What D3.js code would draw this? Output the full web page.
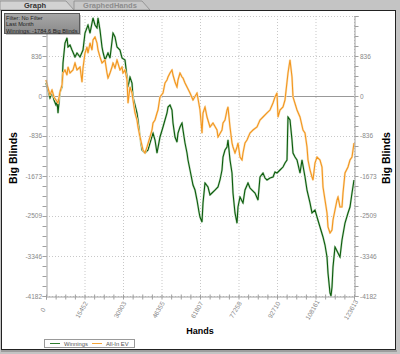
<!DOCTYPE html>
<html>
<head>
<meta charset="utf-8">
<script src="https://cdn.jsdelivr.net/npm/d3@7"></script>
<style>
    body { margin: 0; background: #c4c4c4; }
    svg { display: block; font-family: "Liberation Sans", Arial, sans-serif; }
</style>
</head>
<body>
<div id="chart"></div>
<script>
// winnings curve, [hands, big blinds]
const winnings = [
    [0,272],[803,125],[1605,-42],[2408,84],[3211,-84],[4013,-188],[4415,-84],[4816,-355],[5619,84],[6421,188],
    [6823,690],[7625,1108],[8428,1213],[8829,1025],[9632,1066],[10435,962],[11639,816],[12442,899],[13646,816],[14850,962],
    [15652,1317],[16856,1485],[17659,1317],[18863,1631],[19666,1485],[20468,1422],[20870,1631],[21672,1380],[22475,1025],[22876,920],
    [23679,753],[24883,899],[25686,795],[26890,1317],[27692,1234],[28495,1025],[29699,962],[30502,795],[31706,753],[32509,397],
    [32910,188],[33713,397],[34515,272],[34917,-21],[35719,-188],[36522,-355],[36923,-502],[37726,-857],[38529,-1129],[39733,-1192],
    [40937,-1129],[41739,-983],[42943,-774],[43746,-920],[44549,-1192],[45753,-857],[46957,-648],[48562,-355],[48963,-230],[49766,-188],
    [50569,-293],[50970,-565],[51773,-857],[52576,-962],[52977,-774],[53780,-648],[54582,-565],[54984,-711],[55786,-983],[56589,-1192],
    [56990,-1338],[57793,-1547],[58997,-1861],[59800,-1966],[60602,-2175],[61405,-2426],[61806,-2530],[62609,-2635],[63010,-2237],[63813,-1819],
    [65017,-1903],[65820,-2070],[66622,-2028],[67826,-1966],[69030,-1903],[69833,-1756],[70636,-1547],[71037,-1276],[71840,-1129],[72643,-1066],
    [73044,-920],[73847,-1338],[74649,-1610],[75051,-2028],[75853,-2446],[76656,-2656],[77057,-2321],[77860,-2112],[79064,-2237],[79867,-1966],
    [81071,-1819],[81873,-1924],[82676,-1966],[83880,-2028],[85084,-2175],[85887,-1694],[87091,-1610],[87893,-1715],[88696,-1756],[89900,-1715],
    [91104,-1694],[91907,-1589],[92710,-1610],[93914,-1547],[95118,-1485],[95920,-1401],[96723,-1338],[97124,-439],[97927,-502],[98730,-920],
    [99131,-1192],[99934,-1276],[100736,-1338],[101940,-1610],[102743,-1338],[103947,-1694],[104750,-1966],[105954,-2237],[106756,-2446],[107960,-2384],
    [108763,-2530],[109967,-2739],[111171,-2948],[111974,-3116],[112777,-3367],[113178,-3701],[113981,-4119],[114382,-4182],[114783,-3994],[115185,-3576],
    [115987,-3157],[117191,-3283],[117994,-3367],[118797,-3011],[120001,-2656],[121205,-2446],[122007,-2321],[122810,-2028],[123613,-1756]
]

// all-in EV curve, [hands, big blinds]
const allInEV = [
    [0,335],[803,167],[1605,21],[2408,125],[3211,-21],[4013,-84],[4816,-146],[5619,84],[6421,230],[6823,481],
    [7625,544],[8428,439],[8829,606],[9632,481],[10836,544],[11639,690],[12442,544],[13646,606],[14448,293],[14850,585],
    [15652,899],[16455,1025],[16856,899],[17659,1108],[18462,962],[18863,1171],[19666,1234],[20468,1108],[20870,962],[21672,816],
    [22475,690],[23679,753],[24482,481],[24883,376],[25686,481],[26488,606],[26890,690],[27692,585],[28495,753],[29699,544],
    [30502,606],[30903,481],[31706,544],[32509,335],[32910,-146],[33713,188],[34515,63],[34917,-84],[35719,-355],[36522,-502],
    [36923,-648],[37726,-857],[38930,-1129],[39733,-1192],[40535,-1066],[41739,-857],[42542,-711],[42943,-565],[43746,-502],[44549,-355],
    [44950,-293],[45753,-21],[46957,63],[47759,272],[48562,335],[48963,397],[49766,481],[50569,544],[50970,439],[51773,293],
    [52576,188],[52977,335],[53780,481],[54582,397],[54984,376],[55786,272],[56589,188],[57793,63],[58997,-84],[60602,63],
    [61806,-293],[62609,-774],[63010,-355],[63813,-230],[64616,-439],[65820,-648],[67024,-565],[68629,-711],[69030,-857],[70636,-711],
    [71037,-565],[71840,-502],[72643,-293],[73044,-230],[73847,-648],[74649,-983],[75051,-1066],[75853,-1192],[76656,-1066],[77057,-983],
    [77860,-1276],[78663,-1338],[79064,-1192],[79867,-983],[80669,-920],[81873,-774],[83077,-711],[84683,-648],[85887,-502],[87091,-439],
    [88696,-355],[89900,-293],[91104,-146],[91907,-21],[92710,63],[93111,-439],[93914,-293],[95118,-230],[95920,-84],[97124,481],
    [97927,753],[98730,397],[99131,-21],[100736,-293],[101940,-439],[103144,-711],[103947,-774],[104750,-1066],[105151,-1338],[105954,-1547],
    [106756,-1694],[107157,-1756],[107960,-1401],[108763,-1276],[109967,-1338],[110770,-1485],[111171,-1903],[111974,-2175],[112777,-2446],[113178,-2739],
    [113981,-2865],[114783,-2802],[115185,-2593],[115987,-2384],[116790,-2175],[117191,-2112],[117994,-2321],[118797,-2321],[119198,-2028],[120001,-1610],
    [121205,-1485],[122007,-1338],[122810,-1276],[123613,-983]
]

const xTicks = [0, 15452, 30903, 46355, 61807, 77258, 92710, 108161, 123613]
const yTicks = [836, 0, -836, -1673, -2509, -3346, -4182]
const yTop = 1673
const infoLines = ["Filter: No Filter", "Last Month", "Winnings: -1784.6 Big Blinds"]
const seriesNames = ["Winnings", "All-In EV"]

const W = 400, H = 354
const plot = { left: 46, right: 354, top: 16, bottom: 296 }

const svg = d3.select('#chart').append('svg')
    .attr('width', W)
    .attr('height', H)

// background + tab strip
svg.append('rect').attr('width', W).attr('height', H).attr('fill', '#c4c4c4')

const tab = (x0, w, label, active) => {
    svg.append('path')
        .attr('d', `M${x0},10 L${x0},1 L${x0 + w - 8},1 L${x0 + w},10 Z`)
        .attr('fill', active ? '#d2d2d2' : '#c8c8c8')
        .attr('stroke', '#8a8a8a')
        .attr('stroke-width', 0.8)
    svg.append('text')
        .attr('x', x0 + w / 2 - 2)
        .attr('y', 8)
        .attr('text-anchor', 'middle')
        .attr('font-size', 7.5)
        .attr('font-weight', 'bold')
        .attr('fill', active ? '#333' : '#8c8c8c')
        .text(label)
}
tab(0, 74, 'Graph', true)
tab(74, 76, 'GraphedHands', false)

// white panel
svg.append('rect')
    .attr('x', 1.5).attr('y', 10.5)
    .attr('width', 394).attr('height', 339)
    .attr('fill', '#fff')
    .attr('stroke', '#222')
    .attr('stroke-width', 1)
svg.append('line')
    .attr('x1', 1).attr('x2', 397).attr('y1', 351).attr('y2', 351)
    .attr('stroke', '#777')

const x = d3.scaleLinear().domain([0, 123613]).range([plot.left, plot.right])
const y = d3.scaleLinear().domain([-4182, yTop]).range([plot.bottom, plot.top])

const g = svg.append('g')

// dotted grid
g.selectAll('.vgrid').data(xTicks.slice(1))
    .join('line')
    .attr('x1', d => x(d) + 0.5).attr('x2', d => x(d) + 0.5)
    .attr('y1', plot.top).attr('y2', plot.bottom)
    .attr('stroke', '#c8c8c8')
    .attr('stroke-dasharray', '1,2')
g.selectAll('.hgrid').data(yTicks.filter(d => d != 0).concat([yTop]))
    .join('line')
    .attr('x1', plot.left).attr('x2', plot.right)
    .attr('y1', d => Math.round(y(d)) + 0.5).attr('y2', d => Math.round(y(d)) + 0.5)
    .attr('stroke', '#c8c8c8')
    .attr('stroke-dasharray', '1,2')

// zero line
g.append('line')
    .attr('x1', plot.left).attr('x2', plot.right)
    .attr('y1', Math.round(y(0)) + 0.5).attr('y2', Math.round(y(0)) + 0.5)
    .attr('stroke', '#999')

// axes
const minorY = d3.range(-4182, yTop + 1, 836.4 / 4)
const minorX = d3.range(0, 123614, 123613 / 32)

const leftAxis = d3.axisLeft(y).tickValues(minorY).tickSize(4).tickFormat('')
const rightAxis = d3.axisRight(y).tickValues(minorY).tickSize(4).tickFormat('')
const bottomAxis = d3.axisBottom(x).tickValues(minorX).tickSize(3).tickFormat('')

const styleAxis = a => {
    a.selectAll('path').attr('stroke', '#a0a0a0')
    a.selectAll('line').attr('stroke', '#a0a0a0')
}
svg.append('g').attr('transform', `translate(${plot.left + 0.5},0)`).call(leftAxis).call(styleAxis)
svg.append('g').attr('transform', `translate(${plot.right + 0.5},0)`).call(rightAxis).call(styleAxis)
svg.append('g').attr('transform', `translate(0,${plot.bottom + 0.5})`).call(bottomAxis).call(styleAxis)
    .selectAll('.tick line').attr('y1', -2)

// tick labels
svg.selectAll('.ylabL').data(yTicks)
    .join('text')
    .attr('x', plot.left - 4)
    .attr('y', d => y(d) + 2.5)
    .attr('text-anchor', 'end')
    .attr('font-size', 6.5)
    .attr('fill', '#888')
    .text(d => d)
svg.selectAll('.ylabR').data(yTicks)
    .join('text')
    .attr('x', plot.right + 6)
    .attr('y', d => y(d) + 2.5)
    .attr('font-size', 6.5)
    .attr('fill', '#888')
    .text(d => d)
svg.selectAll('.xlab').data(xTicks)
    .join('text')
    .attr('transform', d => `translate(${x(d) - 1},${plot.bottom + 15}) rotate(-60)`)
    .attr('text-anchor', 'middle')
    .attr('font-size', 6.5)
    .attr('fill', '#888')
    .text(d => d)

// axis titles
svg.append('text')
    .attr('transform', `translate(17,${(plot.top + plot.bottom) / 2 + 2}) rotate(-90)`)
    .attr('text-anchor', 'middle')
    .attr('font-size', 10.5)
    .attr('font-weight', 'bold')
    .text('Big Blinds')
svg.append('text')
    .attr('transform', `translate(390,${(plot.top + plot.bottom) / 2 + 2}) rotate(-90)`)
    .attr('text-anchor', 'middle')
    .attr('font-size', 10.5)
    .attr('font-weight', 'bold')
    .text('Big Blinds')
svg.append('text')
    .attr('x', (plot.left + plot.right) / 2)
    .attr('y', 334)
    .attr('text-anchor', 'middle')
    .attr('font-size', 9)
    .attr('font-weight', 'bold')
    .text('Hands')

// lines
const line = d3.line().x(d => x(d[0])).y(d => y(d[1]))
const drawSeries = (data, halo, core) => {
    g.append('path').datum(data)
        .attr('fill', 'none').attr('stroke', halo)
        .attr('stroke-width', 2.2).attr('stroke-linejoin', 'round')
        .attr('d', line)
    g.append('path').datum(data)
        .attr('fill', 'none').attr('stroke', core)
        .attr('stroke-width', 1.1).attr('stroke-linejoin', 'miter')
        .attr('d', line)
}
drawSeries(winnings, '#c3dcc3', '#0c5c0c')
drawSeries(allInEV, '#fbe2bb', '#f2961f')

// info box
const info = svg.append('g')
info.append('rect')
    .attr('x', 6).attr('y', 15).attr('width', 75).attr('height', 20)
    .attr('fill', '#555').attr('opacity', 0.35)
const grad = svg.append('defs').append('linearGradient')
    .attr('id', 'infoGrad').attr('x1', 0).attr('x2', 0).attr('y1', 0).attr('y2', 1)
grad.append('stop').attr('offset', 0).attr('stop-color', '#a8a8a8')
grad.append('stop').attr('offset', 1).attr('stop-color', '#8a8a8a')
info.append('rect')
    .attr('x', 4.5).attr('y', 13.5).attr('width', 75).attr('height', 20)
    .attr('fill', 'url(#infoGrad)').attr('stroke', '#5a5a5a')
info.selectAll('text').data(infoLines)
    .join('text')
    .attr('x', 6)
    .attr('y', (d, i) => 19.5 + i * 6.5)
    .attr('font-size', 5.6)
    .attr('fill', '#222')
    .text(d => d)

// legend
const legend = svg.append('g')
legend.append('rect')
    .attr('x', 44.5).attr('y', 339.5).attr('width', 90).attr('height', 8)
    .attr('fill', '#fff').attr('stroke', '#999')
const legendColors = ['#2e7d2e', '#f3a53a']
const legendX = [50, 92]
seriesNames.forEach((name, i) => {
    legend.append('line')
        .attr('x1', legendX[i]).attr('x2', legendX[i] + 10)
        .attr('y1', 343.5).attr('y2', 343.5)
        .attr('stroke', legendColors[i])
    legend.append('text')
        .attr('x', legendX[i] + 14)
        .attr('y', 345.5)
        .attr('font-size', 5.8)
        .attr('fill', '#555')
        .text(name)
})
</script>
</body>
</html>
